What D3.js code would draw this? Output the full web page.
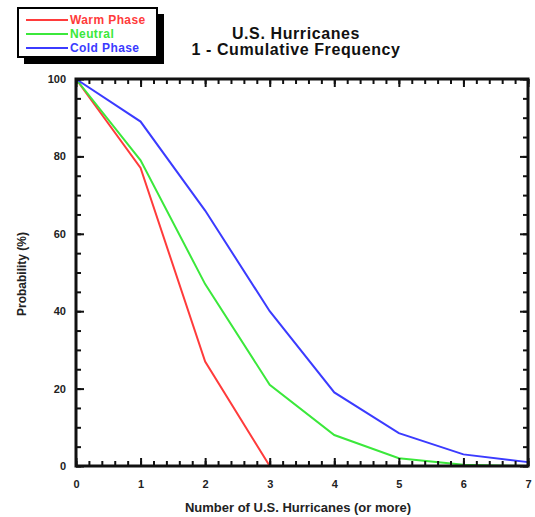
<!DOCTYPE html>
<html>
<head>
<meta charset="utf-8">
<script src="https://cdn.jsdelivr.net/npm/d3@7"></script>
<style>
  body { margin: 0; background: #fff; }
  text { font-family: "Liberation Sans", Arial, sans-serif; font-weight: bold; }
</style>
</head>
<body>
<div id="container1"></div>
<script>
// number of hurricanes (or more)
const counts = [0, 1, 2, 3, 4, 5, 6, 7];
const warm = [100, 77, 27, 0, 0, 0, 0, 0];
const neutral = [100, 79, 47, 21, 8, 2, 0.3, 0];
const cold = [100, 89, 66, 40, 19, 8.5, 3, 1];

const seriesNames = ["Warm Phase", "Neutral", "Cold Phase"];
const seriesColors = ["#ff3b3b", "#3be83b", "#3b3bff"];
const seriesValues = [warm, neutral, cold];

const xTicks = [0, 1, 2, 3, 4, 5, 6, 7];
const yTicks = [0, 20, 40, 60, 80, 100];

const w = 535;
const h = 517;

const svg = d3.select("#container1")
    .append("svg")
    .attr("width", w)
    .attr("height", h);

const xScale = d3.scaleLinear()
    .domain([0, 7])
    .range([76, 528]);

const yScale = d3.scaleLinear()
    .domain([0, 100])
    .range([466, 79]);

// lines first, frame goes on top of them
const line = d3.line()
    .x((d, i) => xScale(counts[i]))
    .y(d => yScale(d));

svg.selectAll(".series")
    .data(seriesValues)
    .enter()
    .append("path")
    .attr("class", "series")
    .attr("d", d => line(d))
    .attr("fill", "none")
    .attr("stroke", (d, i) => seriesColors[i])
    .attr("stroke-width", 2);

// minor ticks
const xMinor = d3.range(0, 7.001, 0.2);
const yMinor = d3.range(0, 100.001, 5);

svg.append("g")
    .attr("transform", `translate(0,${yScale(0)})`)
    .call(d3.axisBottom(xScale).tickValues(xMinor).tickSize(-5).tickFormat(""));
svg.append("g")
    .attr("transform", `translate(0,${yScale(100)})`)
    .call(d3.axisTop(xScale).tickValues(xMinor).tickSize(-5).tickFormat(""));
svg.append("g")
    .attr("transform", `translate(${xScale(0)},0)`)
    .call(d3.axisLeft(yScale).tickValues(yMinor).tickSize(-5).tickFormat(""));
svg.append("g")
    .attr("transform", `translate(${xScale(7)},0)`)
    .call(d3.axisRight(yScale).tickValues(yMinor).tickSize(-5).tickFormat(""));

// major ticks + labels
svg.append("g")
    .attr("class", "axis")
    .attr("transform", `translate(0,${yScale(0)})`)
    .call(d3.axisBottom(xScale).tickValues(xTicks).tickSize(-8).tickPadding(14).tickFormat(d3.format("d")));
svg.append("g")
    .attr("class", "axis")
    .attr("transform", `translate(${xScale(0)},0)`)
    .call(d3.axisLeft(yScale).tickValues(yTicks).tickSize(-8).tickPadding(10).tickFormat(d3.format("d")));
svg.append("g")
    .attr("transform", `translate(0,${yScale(100)})`)
    .call(d3.axisTop(xScale).tickValues(xTicks).tickSize(-8).tickFormat(""));
svg.append("g")
    .attr("transform", `translate(${xScale(7)},0)`)
    .call(d3.axisRight(yScale).tickValues(yTicks).tickSize(-8).tickFormat(""));

svg.selectAll(".tick line").attr("stroke", "#111").attr("stroke-width", 2);
svg.selectAll(".domain").remove();
svg.selectAll(".axis text")
    .attr("font-size", 11)
    .attr("font-weight", "bold")
    .attr("font-family", "Liberation Sans, Arial, sans-serif")
    .attr("fill", "#222");

// frame
svg.append("rect")
    .attr("x", xScale(0))
    .attr("y", yScale(100))
    .attr("width", xScale(7) - xScale(0))
    .attr("height", yScale(0) - yScale(100))
    .attr("fill", "none")
    .attr("stroke", "#111")
    .attr("stroke-width", 3);

// axis titles
svg.append("text")
    .attr("x", 298)
    .attr("y", 512)
    .attr("text-anchor", "middle")
    .attr("font-size", 13)
    .attr("fill", "#222")
    .text("Number of U.S. Hurricanes (or more)");

svg.append("text")
    .attr("transform", "translate(26,274) rotate(-90)")
    .attr("text-anchor", "middle")
    .attr("font-size", 12)
    .attr("fill", "#222")
    .text("Probability (%)");

// title
svg.append("text")
    .attr("x", 296)
    .attr("y", 39)
    .attr("text-anchor", "middle")
    .attr("font-size", 16)
    .attr("letter-spacing", 0.6)
    .attr("fill", "#111")
    .text("U.S. Hurricanes");
svg.append("text")
    .attr("x", 296)
    .attr("y", 55)
    .attr("text-anchor", "middle")
    .attr("font-size", 16)
    .attr("letter-spacing", 0.6)
    .attr("fill", "#111")
    .text("1 - Cumulative Frequency");

// legend with drop shadow
const legend = svg.append("g");
legend.append("rect")
    .attr("x", 24).attr("y", 14)
    .attr("width", 140).attr("height", 50)
    .attr("fill", "#000");
legend.append("rect")
    .attr("x", 18).attr("y", 8)
    .attr("width", 139).attr("height", 49)
    .attr("fill", "#fff")
    .attr("stroke", "#000")
    .attr("stroke-width", 2);

const rows = legend.selectAll(".row")
    .data(seriesNames)
    .enter()
    .append("g")
    .attr("class", "row")
    .attr("transform", (d, i) => `translate(0,${20 + i * 14})`);

rows.append("line")
    .attr("x1", 26).attr("x2", 68)
    .attr("y1", 0).attr("y2", 0)
    .attr("stroke", (d, i) => seriesColors[i])
    .attr("stroke-width", 2);

rows.append("text")
    .attr("x", 70)
    .attr("y", 4)
    .attr("font-size", 12)
    .attr("letter-spacing", 0.4)
    .attr("fill", (d, i) => seriesColors[i])
    .text(d => d);
</script>
</body>
</html>
